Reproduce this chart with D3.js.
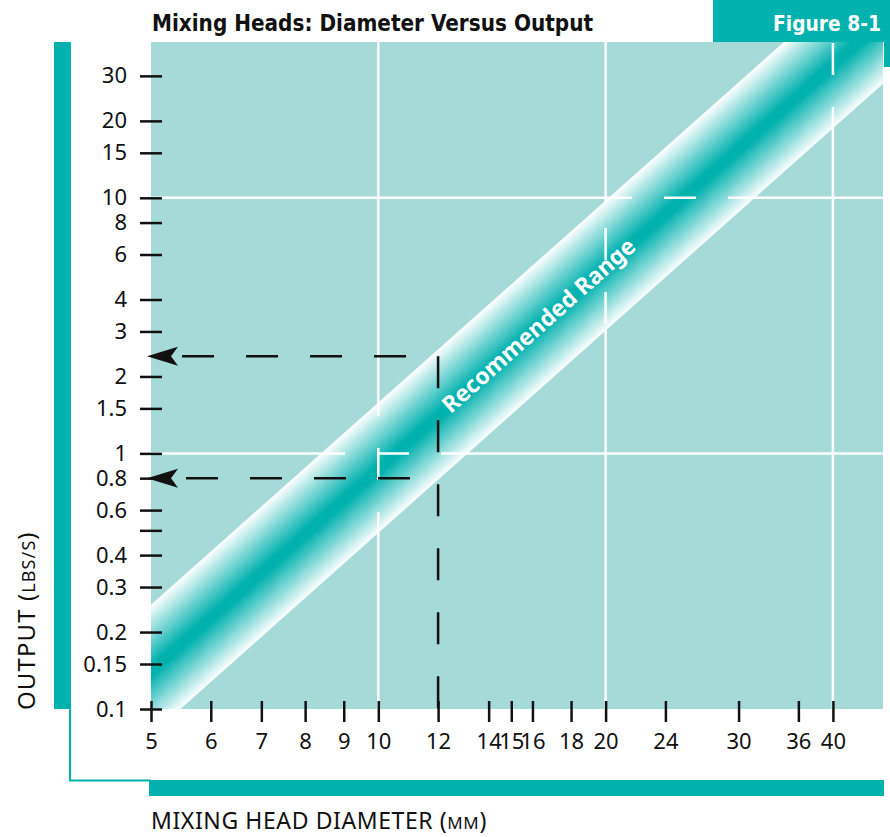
<!DOCTYPE html>
<html>
<head>
<meta charset="utf-8">
<script src="https://cdn.jsdelivr.net/npm/d3@7"></script>
<style>
  html, body { margin: 0; padding: 0; background: #fff; }
  svg { display: block; }
</style>
</head>
<body>
<svg id="chart" width="890" height="837"></svg>
<script>
// ---- data ----
const xTickValues = [5, 6, 7, 8, 9, 10, 12, 14, 15, 16, 18, 20, 24, 30, 36, 40];
const yTickValues = [0.1, 0.15, 0.2, 0.3, 0.4, 0.5, 0.6, 0.8, 1, 1.5, 2, 3, 4, 6, 8, 10, 15, 20, 30];
const yTickLabels = ["0.1", "0.15", "0.2", "0.3", "0.4", "", "0.6", "0.8", "1", "1.5", "2", "3", "4", "6", "8", "10", "15", "20", "30"];
const xGridValues = [10, 20, 40];
const yGridValues = [1, 10];

// recommended range band: lower / upper edge at the two ends
const bandDiameter = [5, 47];
const bandLow = [0.079, 28.6];
const bandHigh = [0.256, 92];
const bandLabel = "Recommended Range";
const bandLabelDiameter = 16.3;

// worked example at 12 mm
const exampleDiameter = 12;
const exampleOutput = [0.8, 2.4];

// ---- layout ----
const teal = "#00b1ae";
const plotBg = "#a6dad9";
const plot = {left: 151, right: 883, top: 42, bottom: 709};

const svg = d3.select("#chart");

const x = d3.scaleLog().domain([5, 46.6]).range([plot.left, plot.right]);
const y = d3.scaleLog().domain([0.1, 40.7]).range([plot.bottom, plot.top]);

// frame pieces
svg.append("rect").attr("x", 713).attr("y", 0).attr("width", 177).attr("height", plot.top).attr("fill", teal);
svg.append("rect").attr("x", plot.right + 1).attr("y", 0).attr("width", 6).attr("height", 67).attr("fill", teal);
svg.append("rect").attr("x", 54).attr("y", plot.top).attr("width", 17).attr("height", plot.bottom - plot.top).attr("fill", teal);
svg.append("path")
    .attr("d", `M70,${plot.bottom} V780.5 H${plot.left}`)
    .attr("fill", "none").attr("stroke", teal).attr("stroke-width", 2);
svg.append("rect").attr("x", plot.left - 2).attr("y", 780).attr("width", plot.right - plot.left + 3).attr("height", 16).attr("fill", teal);

// titles
svg.append("text")
    .attr("x", 152).attr("y", 31)
    .attr("font-family", "'Liberation Sans Narrow', 'DejaVu Sans Condensed', sans-serif")
    .attr("font-weight", "bold").attr("font-size", 23)
    .attr("textLength", 441).attr("lengthAdjust", "spacingAndGlyphs")
    .attr("fill", "#111")
    .text("Mixing Heads: Diameter Versus Output");

svg.append("text")
    .attr("x", 773).attr("y", 31)
    .attr("font-family", "'Liberation Sans Narrow', 'DejaVu Sans Condensed', sans-serif")
    .attr("font-weight", "bold").attr("font-size", 22)
    .attr("textLength", 108).attr("lengthAdjust", "spacingAndGlyphs")
    .attr("fill", "#fff")
    .text("Figure 8-1");

// plot background
svg.append("rect")
    .attr("x", plot.left).attr("y", plot.top)
    .attr("width", plot.right - plot.left).attr("height", plot.bottom - plot.top)
    .attr("fill", plotBg);

const defs = svg.append("defs");
defs.append("clipPath").attr("id", "plotClip")
  .append("rect")
    .attr("x", plot.left).attr("y", plot.top)
    .attr("width", plot.right - plot.left).attr("height", plot.bottom - plot.top);

// band geometry in pixels
const bandPts = [
    [x(bandDiameter[0]), y(bandHigh[0])],
    [x(bandDiameter[1]), y(bandHigh[1])],
    [x(bandDiameter[1]), y(bandLow[1])],
    [x(bandDiameter[0]), y(bandLow[0])]
];
const dx = bandPts[1][0] - bandPts[0][0], dy = bandPts[1][1] - bandPts[0][1];
const len = Math.hypot(dx, dy);
const nx = -dy / len, ny = dx / len;   // normal, pointing down-right
const across = (bandPts[3][0] - bandPts[0][0]) * nx + (bandPts[3][1] - bandPts[0][1]) * ny;

const grad = defs.append("linearGradient").attr("id", "bandGrad")
    .attr("gradientUnits", "userSpaceOnUse")
    .attr("x1", bandPts[0][0]).attr("y1", bandPts[0][1])
    .attr("x2", bandPts[0][0] + nx * across).attr("y2", bandPts[0][1] + ny * across);
[[0, "#ffffff"], [0.47, teal], [0.55, teal], [1, "#ffffff"]].forEach(s => {
    grad.append("stop").attr("offset", s[0]).attr("stop-color", s[1]);
});

defs.append("clipPath").attr("id", "bandClip")
  .append("polygon").attr("points", bandPts.map(p => p.join(",")).join(" "));

const plotG = svg.append("g").attr("clip-path", "url(#plotClip)");

// grid lines (solid under the band, broken over it)
function gridLines(g, dashed) {
    g.selectAll(".gx").data(xGridValues).join("line").attr("class", "gx")
        .attr("x1", d => x(d)).attr("x2", d => x(d))
        .attr("y1", plot.top).attr("y2", plot.bottom);
    g.selectAll(".gy").data(yGridValues).join("line").attr("class", "gy")
        .attr("x1", plot.left).attr("x2", plot.right)
        .attr("y1", d => y(d)).attr("y2", d => y(d));
    g.selectAll("line").attr("stroke", "#fff").attr("stroke-width", 2.5);
    if (dashed) {
        // phase of the dashes, as drawn in the print
        const phaseX = {10: 22, 20: 58, 40: 1};
        const phaseY = {1: 34, 10: 1};
        g.selectAll(".gx").attr("stroke-dasharray", "32,32").attr("stroke-dashoffset", d => -phaseX[d]);
        g.selectAll(".gy").attr("stroke-dasharray", "32,32").attr("stroke-dashoffset", d => -phaseY[d]);
    }
}
plotG.append("g").call(gridLines, false);

// band
plotG.append("polygon")
    .attr("points", bandPts.map(p => p.join(",")).join(" "))
    .attr("fill", "url(#bandGrad)");

plotG.append("g").attr("clip-path", "url(#bandClip)").call(gridLines, true);

// band label
const tLab = (x(bandLabelDiameter) - bandPts[0][0]) / dx;
const labX = x(bandLabelDiameter);
const labY = ((bandPts[0][1] + tLab * dy) + (bandPts[3][1] + tLab * (bandPts[2][1] - bandPts[3][1]))) / 2;
const angle = Math.atan2(dy, dx) * 180 / Math.PI;
svg.append("text")
    .attr("transform", `translate(${labX},${labY}) rotate(${angle})`)
    .attr("text-anchor", "middle").attr("dy", "0.36em")
    .attr("font-family", "'Noto Sans', sans-serif").attr("font-weight", "bold")
    .attr("font-size", 23).attr("fill", "#fff")
    .text(bandLabel);

// worked example: dashed read-off lines with arrows
const dashG = svg.append("g").attr("stroke", "#111").attr("stroke-width", 2.5).attr("fill", "none");
exampleOutput.forEach((v, i) => {
    dashG.append("line")
        .attr("x1", plot.left + (i === 0 ? 35 : 31)).attr("x2", x(exampleDiameter))
        .attr("y1", y(v)).attr("y2", y(v))
        .attr("stroke-dasharray", "32,32");
    svg.append("path")
        .attr("transform", `translate(${plot.left - 4},${y(v)})`)
        .attr("d", "M0,0 L31,-9.5 L24,0 L31,9.5 Z")
        .attr("fill", "#111");
});
dashG.append("line")
    .attr("x1", x(exampleDiameter)).attr("x2", x(exampleDiameter))
    .attr("y1", y(d3.max(exampleOutput))).attr("y2", plot.bottom)
    .attr("stroke-dasharray", "32,32");

// axes
const tickFont = "'Noto Sans', sans-serif";
const yAxis = d3.axisLeft(y)
    .tickValues(yTickValues)
    .tickSize(22).tickPadding(13)
    .tickFormat(d => yTickLabels[yTickValues.indexOf(d)]);
svg.append("g")
    .attr("transform", `translate(${plot.left + 11},0)`)
    .call(yAxis)
    .call(g => g.select(".domain").remove())
    .call(g => g.selectAll(".tick line").attr("stroke", "#111").attr("stroke-width", 2.5))
    .call(g => g.selectAll(".tick text").attr("font-family", tickFont).attr("font-size", 22).attr("fill", "#111"));

const xAxis = d3.axisBottom(x)
    .tickValues(xTickValues)
    .tickSize(21).tickPadding(11)
    .tickFormat(d3.format("d"));
svg.append("g")
    .attr("transform", `translate(0,${plot.bottom - 8})`)
    .call(xAxis)
    .call(g => g.select(".domain").remove())
    .call(g => g.selectAll(".tick line").attr("stroke", "#111").attr("stroke-width", 2.5))
    .call(g => g.selectAll(".tick text").attr("font-family", tickFont).attr("font-size", 22).attr("fill", "#111"));

// axis titles with small caps units
const xTitle = svg.append("text")
    .attr("x", plot.left).attr("y", 829)
    .attr("font-family", tickFont).attr("font-size", 23).attr("letter-spacing", 0.6)
    .attr("fill", "#111");
xTitle.append("tspan").text("MIXING HEAD DIAMETER (");
xTitle.append("tspan").attr("font-size", 17).text("MM");
xTitle.append("tspan").text(")");

const yTitle = svg.append("text")
    .attr("transform", `translate(35,710) rotate(-90)`)
    .attr("font-family", tickFont).attr("font-size", 24).attr("letter-spacing", 1.1)
    .attr("fill", "#111");
yTitle.append("tspan").text("OUTPUT (");
yTitle.append("tspan").attr("font-size", 18).text("LBS/S");
yTitle.append("tspan").text(")");
</script>
</body>
</html>
